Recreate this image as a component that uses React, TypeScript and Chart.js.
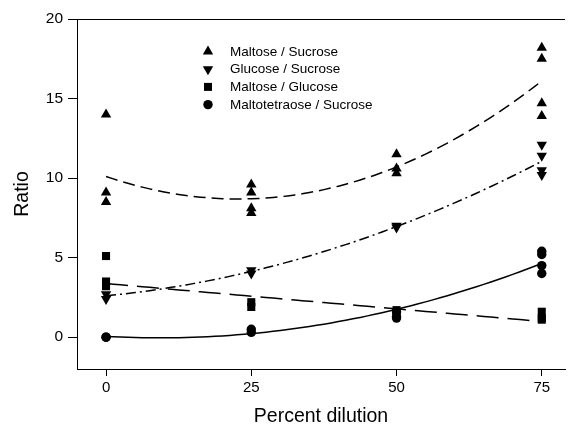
import React, { useEffect, useRef } from "react";
import { Chart, registerables } from "chart.js";

Chart.register(...registerables);

const FONT = "'Liberation Sans', Arial, Helvetica, sans-serif";

// Axis ticks
const xTicks = [0, 25, 50, 75];
const yTicks = [0, 5, 10, 15, 20];

// Series labels
const seriesLabels = [
  "Maltose / Sucrose",
  "Glucose / Sucrose",
  "Maltose / Glucose",
  "Maltotetraose / Sucrose",
];

// Maltose / Sucrose (up triangles)
const maltoseSucroseX = [0, 0, 0, 25, 25, 25, 25, 50, 50, 50, 75, 75, 75, 75];
const maltoseSucroseY = [14.0, 9.1, 8.5, 9.6, 9.1, 8.1, 7.8, 11.5, 10.6, 10.3, 18.2, 17.5, 14.7, 13.9];

// Glucose / Sucrose (down triangles)
const glucoseSucroseX = [0, 0, 25, 25, 50, 50, 75, 75, 75, 75];
const glucoseSucroseY = [2.7, 2.4, 4.2, 4.0, 7.0, 6.9, 12.1, 11.4, 10.5, 10.2];

// Maltose / Glucose (squares)
const maltoseGlucoseX = [0, 0, 0, 25, 25, 50, 50, 75, 75, 75];
const maltoseGlucoseY = [5.1, 3.5, 3.2, 2.2, 1.9, 1.7, 1.5, 1.6, 1.2, 1.1];

// Maltotetraose / Sucrose (circles)
const maltotetraoseX = [0, 0, 25, 25, 50, 50, 50, 75, 75, 75, 75];
const maltotetraoseY = [0.0, 0.0, 0.5, 0.3, 1.6, 1.3, 1.2, 5.4, 5.2, 4.5, 4.0];

// Fitted curves: coefficients [a, b, c] of a + b*x + c*x^2
const fitMaltoseSucrose = [10.1, -0.124, 0.00272];
const fitGlucoseSucrose = [2.6, 0.0357, 0.001027];
const fitMaltoseGlucose = [3.37, -0.0318, 0];
const fitMaltotetraose = [0.05, -0.0201, 0.001083];
const fitRange = [0, 75];

const toPoints = (xs: number[], ys: number[]) => xs.map((x, i) => ({ x, y: ys[i] }));

const curve = (coef: number[]) => {
  const pts: { x: number; y: number }[] = [];
  const steps = 60;
  for (let i = 0; i <= steps; i++) {
    const x = fitRange[0] + ((fitRange[1] - fitRange[0]) * i) / steps;
    pts.push({ x, y: coef[0] + coef[1] * x + coef[2] * x * x });
  }
  return pts;
};

type Marker = "up" | "down" | "square" | "circle";
const markerKinds: Marker[] = ["up", "down", "square", "circle"];

function drawMarker(ctx: CanvasRenderingContext2D, kind: Marker, x: number, y: number) {
  ctx.beginPath();
  if (kind === "up" || kind === "down") {
    const r = 6;
    const s = kind === "up" ? 1 : -1;
    ctx.moveTo(x, y - s * r);
    ctx.lineTo(x - r * Math.sin(Math.PI / 3), y + (s * r) / 2);
    ctx.lineTo(x + r * Math.sin(Math.PI / 3), y + (s * r) / 2);
    ctx.closePath();
  } else if (kind === "square") {
    const h = 4;
    ctx.rect(x - h, y - h, 2 * h, 2 * h);
  } else {
    ctx.arc(x, y, 4.7, 0, Math.PI * 2);
  }
  ctx.fillStyle = "#000";
  ctx.fill();
}

const framePlugin = {
  id: "frameAndLegend",
  afterDraw(chart: any) {
    const { ctx, chartArea } = chart;
    ctx.save();
    // top frame line
    ctx.strokeStyle = "#000";
    ctx.lineWidth = 1;
    ctx.beginPath();
    ctx.moveTo(chartArea.left, chartArea.top + 0.5);
    ctx.lineTo(chartArea.right, chartArea.top + 0.5);
    ctx.stroke();
    // legend
    const mx = 208;
    const tx = 230;
    const y0 = 51.5;
    const gap = 17.7;
    ctx.font = `13.5px ${FONT}`;
    ctx.textBaseline = "middle";
    ctx.textAlign = "left";
    seriesLabels.forEach((label, i) => {
      const y = y0 + i * gap;
      drawMarker(ctx, markerKinds[i], mx, y);
      ctx.fillStyle = "#000";
      ctx.fillText(label, tx, y + 0.5);
    });
    ctx.restore();
  },
};

export default function App() {
  const ref = useRef<HTMLCanvasElement | null>(null);

  useEffect(() => {
    if (!ref.current) return;
    const lineBase = {
      type: "line" as const,
      showLine: true,
      pointRadius: 0,
      borderColor: "#000",
      borderWidth: 1.5,
      fill: false,
      tension: 0,
      order: 2,
    };
    const pointBase = {
      type: "scatter" as const,
      backgroundColor: "#000",
      borderColor: "#000",
      borderWidth: 0,
      order: 1,
    };
    const chart = new Chart(ref.current, {
      type: "scatter",
      data: {
        datasets: [
          { ...lineBase, label: "fit1", data: curve(fitMaltoseSucrose), borderDash: [12, 6] },
          { ...lineBase, label: "fit2", data: curve(fitGlucoseSucrose), borderDash: [10, 4, 2, 4] },
          { ...lineBase, label: "fit3", data: curve(fitMaltoseGlucose), borderDash: [22, 9] },
          { ...lineBase, label: "fit4", data: curve(fitMaltotetraose) },
          {
            ...pointBase,
            label: seriesLabels[0],
            data: toPoints(maltoseSucroseX, maltoseSucroseY),
            pointStyle: "triangle",
            pointRadius: 6,
          },
          {
            ...pointBase,
            label: seriesLabels[1],
            data: toPoints(glucoseSucroseX, glucoseSucroseY),
            pointStyle: "triangle",
            pointRotation: 180,
            pointRadius: 6,
          },
          {
            ...pointBase,
            label: seriesLabels[2],
            data: toPoints(maltoseGlucoseX, maltoseGlucoseY),
            pointStyle: "rect",
            pointRadius: 5.7,
          },
          {
            ...pointBase,
            label: seriesLabels[3],
            data: toPoints(maltotetraoseX, maltotetraoseY),
            pointStyle: "circle",
            pointRadius: 4.7,
          },
        ] as any,
      },
      options: {
        responsive: false,
        animation: false,
        devicePixelRatio: 1,
        layout: { padding: { top: 19, left: 0, right: 0, bottom: 0 } },
        plugins: { legend: { display: false }, tooltip: { enabled: false } },
        scales: {
          x: {
            type: "linear",
            min: -5,
            max: 79,
            afterBuildTicks: (s: any) => {
              s.ticks = xTicks.map((v) => ({ value: v }));
            },
            afterFit: (s: any) => {
              s.height = 65;
            },
            grid: { drawOnChartArea: false, drawTicks: true, tickLength: 7, color: "#000" },
            border: { display: true, color: "#000", width: 1 },
            ticks: { font: { size: 15, family: FONT }, color: "#000", padding: 3, maxRotation: 0 },
            title: {
              display: true,
              text: "Percent dilution",
              font: { size: 19.5, family: FONT },
              color: "#000",
              padding: { top: 0, bottom: 6 },
            },
          },
          y: {
            type: "linear",
            min: -2,
            max: 20,
            afterBuildTicks: (s: any) => {
              s.ticks = yTicks.map((v) => ({ value: v }));
            },
            afterFit: (s: any) => {
              s.width = 77;
            },
            grid: { drawOnChartArea: false, drawTicks: true, tickLength: 9, color: "#000" },
            border: { display: true, color: "#000", width: 1 },
            ticks: { font: { size: 15.5, family: FONT }, color: "#000", padding: 5 },
            title: {
              display: true,
              text: "Ratio",
              font: { size: 19.5, family: FONT },
              color: "#000",
              padding: { top: 11, bottom: 0 },
            },
          },
        },
      } as any,
      plugins: [framePlugin],
    });
    return () => chart.destroy();
  }, []);

  return (
    <div style={{ position: "fixed", left: 0, top: 0, width: 571, height: 434, background: "#fff" }}>
      <canvas ref={ref} width={571} height={434} style={{ width: 571, height: 434 }} />
    </div>
  );
}
